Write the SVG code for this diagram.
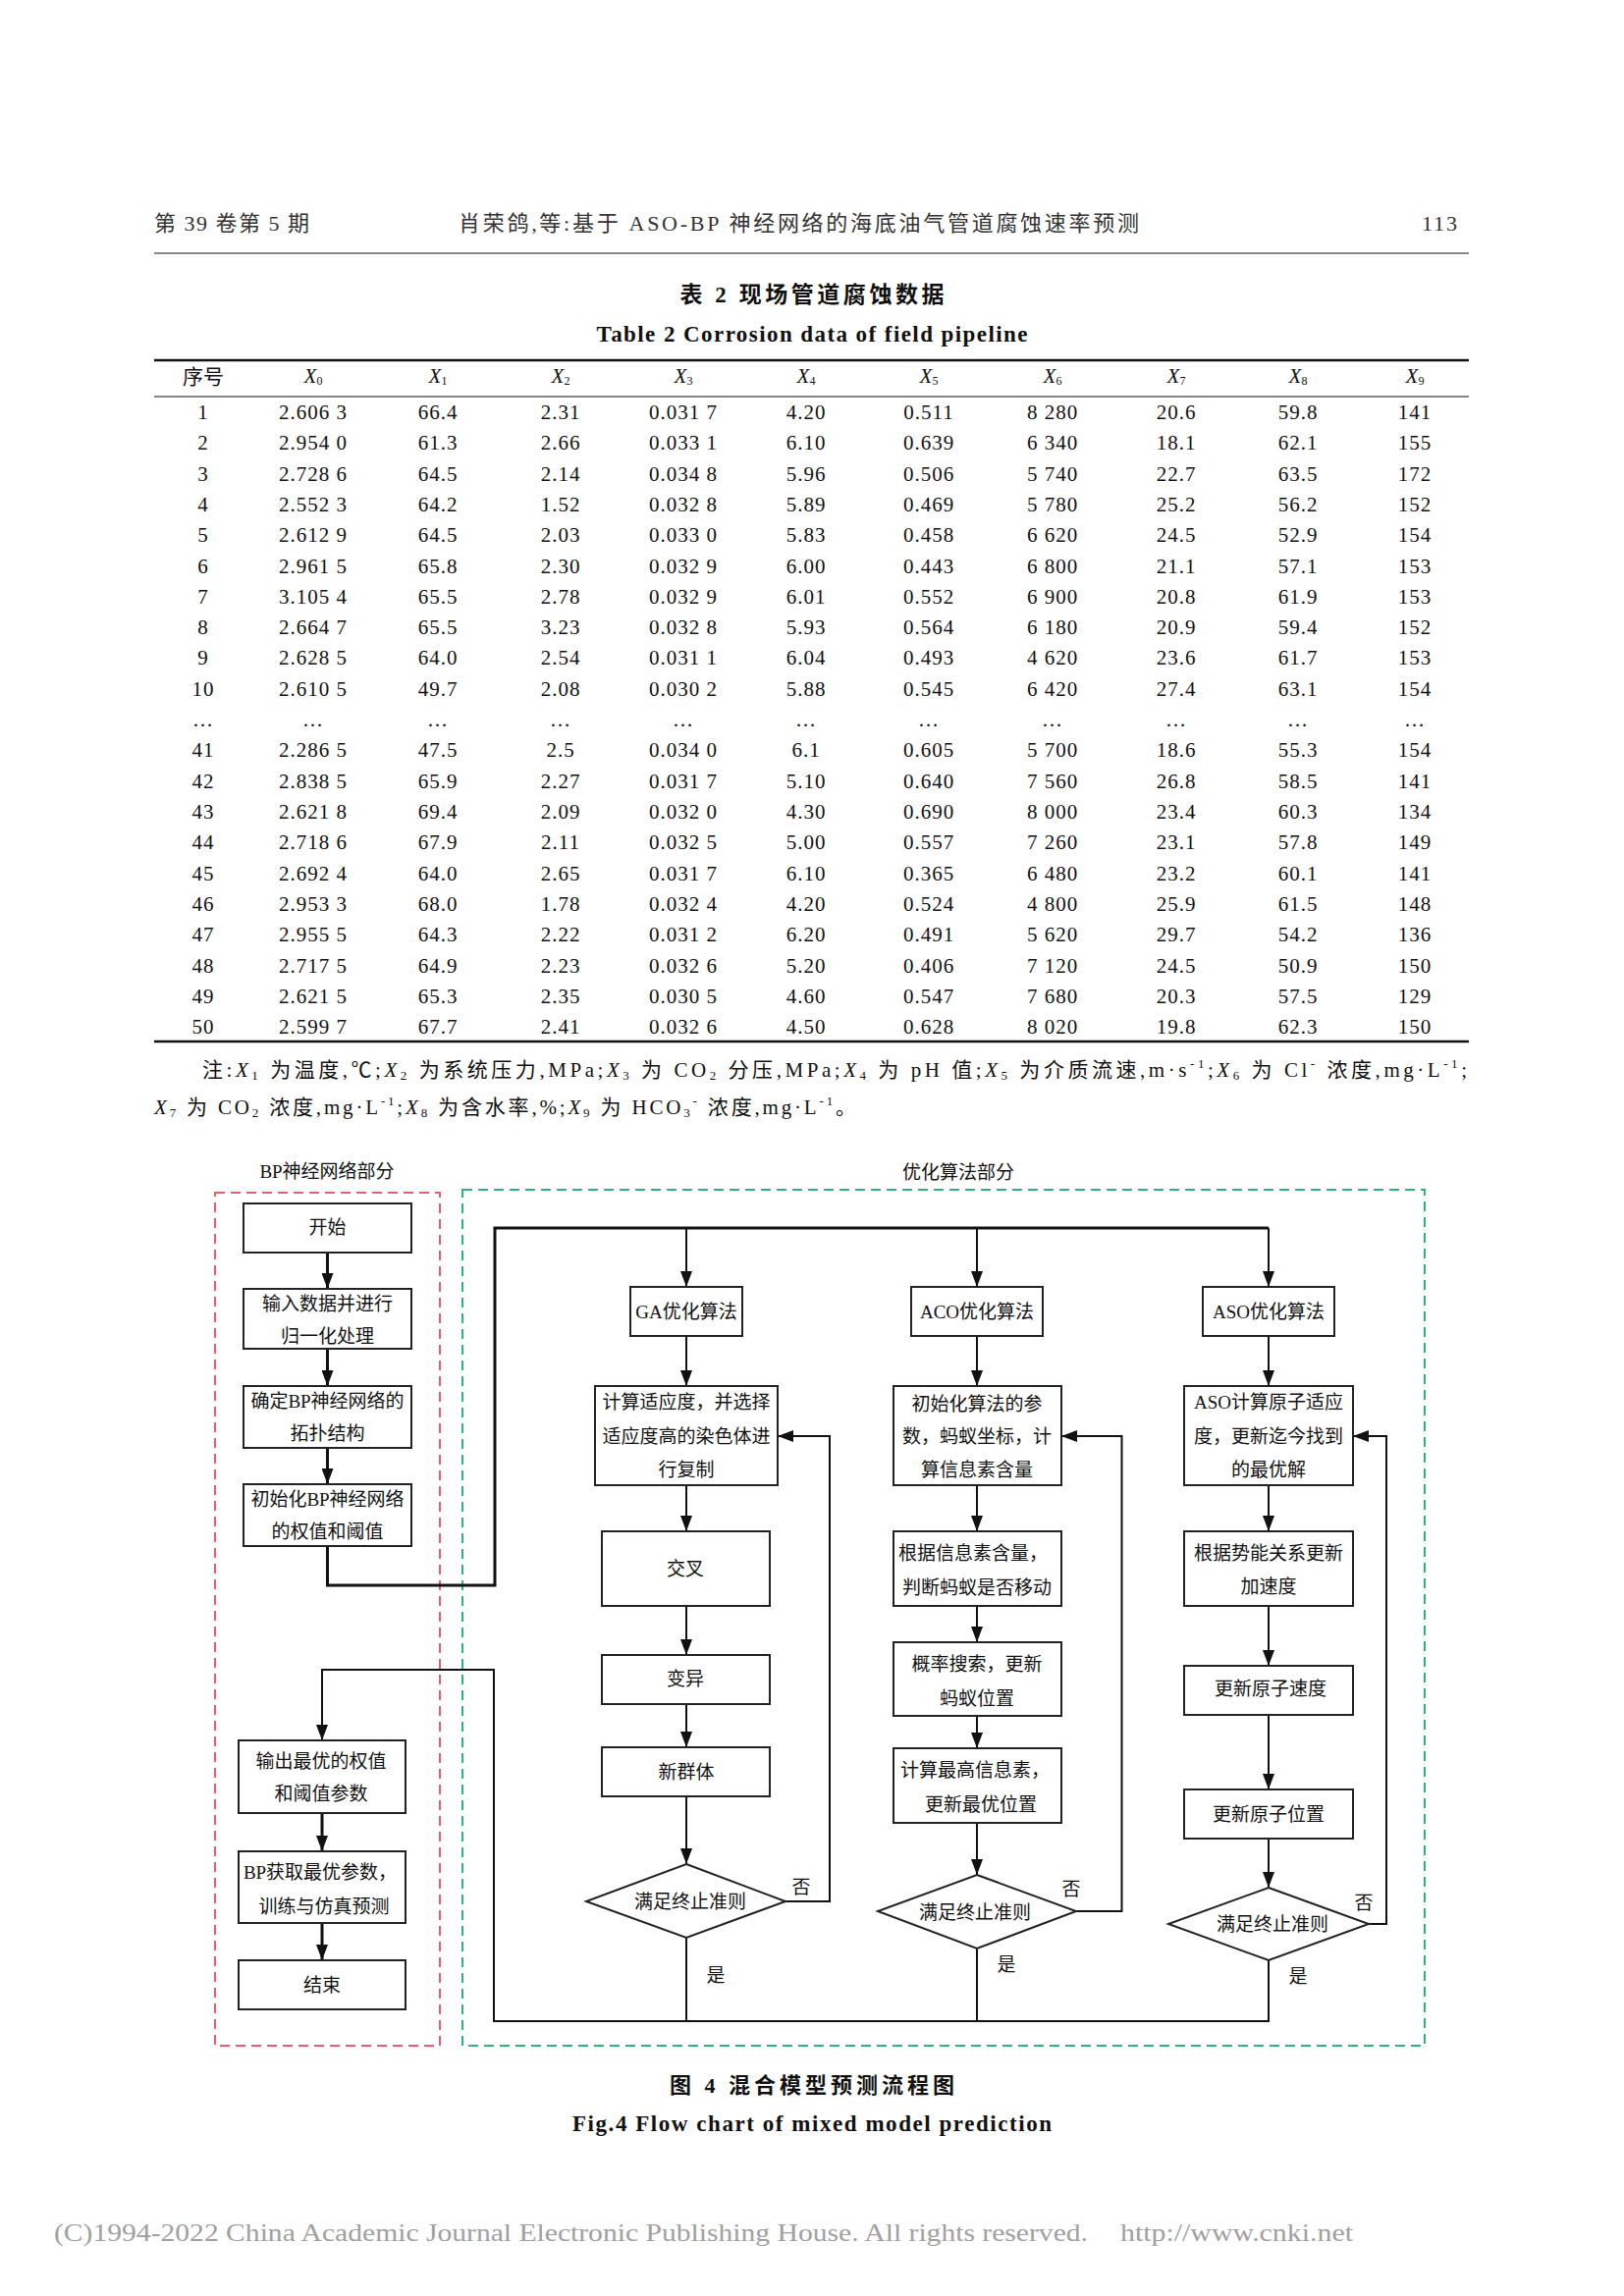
<svg xmlns="http://www.w3.org/2000/svg" width="1654" height="2339" viewBox="0 0 1654 2339">
<style>
text{font-family:"Liberation Serif","Noto Sans CJK SC",serif;fill:#111}
.hd{font-size:22px;fill:#333}
.td{font-size:21px;text-anchor:middle;dominant-baseline:central;letter-spacing:1px}
.th{font-size:21px;text-anchor:middle;dominant-baseline:central}
.nt{font-size:21px;dominant-baseline:central}
.cap{font-weight:bold;text-anchor:middle;dominant-baseline:central}
.fc{font-size:19px;text-anchor:middle;dominant-baseline:central}
.lbl{font-size:19px;text-anchor:middle;dominant-baseline:central}
.box{fill:#fff;stroke:#222;stroke-width:2}
.ln{fill:none;stroke:#111;stroke-width:2}
.thick{stroke-width:3}
.rule{stroke:#111}
</style>
<defs>
<marker id="ah" viewBox="0 0 16 12" refX="16" refY="6" markerWidth="16" markerHeight="12" orient="auto" markerUnits="userSpaceOnUse"><path d="M0,0 L16,6 L0,12 z" fill="#111"/></marker>
</defs>
<rect width="1654" height="2339" fill="#fff"/>

<!-- page header -->
<text class="hd" x="157" y="235" textLength="158" lengthAdjust="spacing">第 39 卷第 5 期</text>
<text class="hd" x="467" y="235" textLength="693" lengthAdjust="spacing">肖荣鸽,等:基于 ASO-BP 神经网络的海底油气管道腐蚀速率预测</text>
<text class="hd" x="1448" y="235" textLength="36" lengthAdjust="spacing">113</text>
<line class="rule" x1="157" y1="258" x2="1496" y2="258" stroke-width="1.2"/>

<!-- table caption -->
<text class="cap" x="827" y="300" font-size="23" textLength="269" lengthAdjust="spacing">表 2  现场管道腐蚀数据</text>
<text class="cap" x="827" y="340" font-size="23" textLength="439" lengthAdjust="spacing">Table 2  Corrosion data of field pipeline</text>

<!-- table -->
<g id="table">
<line class="rule" x1="157" y1="367" x2="1496" y2="367" stroke-width="2.5"/>
<line class="rule" x1="157" y1="404" x2="1496" y2="404" stroke-width="1"/>
<line class="rule" x1="157" y1="1061" x2="1496" y2="1061" stroke-width="2.5"/>
<text class="th" x="207" y="384">序号</text>
<text class="th" x="319" y="383"><tspan font-style="italic">X</tspan><tspan font-size="12" dy="5">0</tspan></text>
<text class="th" x="446" y="383"><tspan font-style="italic">X</tspan><tspan font-size="12" dy="5">1</tspan></text>
<text class="th" x="571" y="383"><tspan font-style="italic">X</tspan><tspan font-size="12" dy="5">2</tspan></text>
<text class="th" x="696" y="383"><tspan font-style="italic">X</tspan><tspan font-size="12" dy="5">3</tspan></text>
<text class="th" x="821" y="383"><tspan font-style="italic">X</tspan><tspan font-size="12" dy="5">4</tspan></text>
<text class="th" x="946" y="383"><tspan font-style="italic">X</tspan><tspan font-size="12" dy="5">5</tspan></text>
<text class="th" x="1072" y="383"><tspan font-style="italic">X</tspan><tspan font-size="12" dy="5">6</tspan></text>
<text class="th" x="1198" y="383"><tspan font-style="italic">X</tspan><tspan font-size="12" dy="5">7</tspan></text>
<text class="th" x="1322" y="383"><tspan font-style="italic">X</tspan><tspan font-size="12" dy="5">8</tspan></text>
<text class="th" x="1441" y="383"><tspan font-style="italic">X</tspan><tspan font-size="12" dy="5">9</tspan></text>

<text class="td" y="420"><tspan x="207">1</tspan><tspan x="319">2.606 3</tspan><tspan x="446">66.4</tspan><tspan x="571">2.31</tspan><tspan x="696">0.031 7</tspan><tspan x="821">4.20</tspan><tspan x="946">0.511</tspan><tspan x="1072">8 280</tspan><tspan x="1198">20.6</tspan><tspan x="1322">59.8</tspan><tspan x="1441">141</tspan></text>
<text class="td" y="451"><tspan x="207">2</tspan><tspan x="319">2.954 0</tspan><tspan x="446">61.3</tspan><tspan x="571">2.66</tspan><tspan x="696">0.033 1</tspan><tspan x="821">6.10</tspan><tspan x="946">0.639</tspan><tspan x="1072">6 340</tspan><tspan x="1198">18.1</tspan><tspan x="1322">62.1</tspan><tspan x="1441">155</tspan></text>
<text class="td" y="483"><tspan x="207">3</tspan><tspan x="319">2.728 6</tspan><tspan x="446">64.5</tspan><tspan x="571">2.14</tspan><tspan x="696">0.034 8</tspan><tspan x="821">5.96</tspan><tspan x="946">0.506</tspan><tspan x="1072">5 740</tspan><tspan x="1198">22.7</tspan><tspan x="1322">63.5</tspan><tspan x="1441">172</tspan></text>
<text class="td" y="514"><tspan x="207">4</tspan><tspan x="319">2.552 3</tspan><tspan x="446">64.2</tspan><tspan x="571">1.52</tspan><tspan x="696">0.032 8</tspan><tspan x="821">5.89</tspan><tspan x="946">0.469</tspan><tspan x="1072">5 780</tspan><tspan x="1198">25.2</tspan><tspan x="1322">56.2</tspan><tspan x="1441">152</tspan></text>
<text class="td" y="545"><tspan x="207">5</tspan><tspan x="319">2.612 9</tspan><tspan x="446">64.5</tspan><tspan x="571">2.03</tspan><tspan x="696">0.033 0</tspan><tspan x="821">5.83</tspan><tspan x="946">0.458</tspan><tspan x="1072">6 620</tspan><tspan x="1198">24.5</tspan><tspan x="1322">52.9</tspan><tspan x="1441">154</tspan></text>
<text class="td" y="577"><tspan x="207">6</tspan><tspan x="319">2.961 5</tspan><tspan x="446">65.8</tspan><tspan x="571">2.30</tspan><tspan x="696">0.032 9</tspan><tspan x="821">6.00</tspan><tspan x="946">0.443</tspan><tspan x="1072">6 800</tspan><tspan x="1198">21.1</tspan><tspan x="1322">57.1</tspan><tspan x="1441">153</tspan></text>
<text class="td" y="608"><tspan x="207">7</tspan><tspan x="319">3.105 4</tspan><tspan x="446">65.5</tspan><tspan x="571">2.78</tspan><tspan x="696">0.032 9</tspan><tspan x="821">6.01</tspan><tspan x="946">0.552</tspan><tspan x="1072">6 900</tspan><tspan x="1198">20.8</tspan><tspan x="1322">61.9</tspan><tspan x="1441">153</tspan></text>
<text class="td" y="639"><tspan x="207">8</tspan><tspan x="319">2.664 7</tspan><tspan x="446">65.5</tspan><tspan x="571">3.23</tspan><tspan x="696">0.032 8</tspan><tspan x="821">5.93</tspan><tspan x="946">0.564</tspan><tspan x="1072">6 180</tspan><tspan x="1198">20.9</tspan><tspan x="1322">59.4</tspan><tspan x="1441">152</tspan></text>
<text class="td" y="670"><tspan x="207">9</tspan><tspan x="319">2.628 5</tspan><tspan x="446">64.0</tspan><tspan x="571">2.54</tspan><tspan x="696">0.031 1</tspan><tspan x="821">6.04</tspan><tspan x="946">0.493</tspan><tspan x="1072">4 620</tspan><tspan x="1198">23.6</tspan><tspan x="1322">61.7</tspan><tspan x="1441">153</tspan></text>
<text class="td" y="702"><tspan x="207">10</tspan><tspan x="319">2.610 5</tspan><tspan x="446">49.7</tspan><tspan x="571">2.08</tspan><tspan x="696">0.030 2</tspan><tspan x="821">5.88</tspan><tspan x="946">0.545</tspan><tspan x="1072">6 420</tspan><tspan x="1198">27.4</tspan><tspan x="1322">63.1</tspan><tspan x="1441">154</tspan></text>
<text class="td" y="733"><tspan x="207">…</tspan><tspan x="319">…</tspan><tspan x="446">…</tspan><tspan x="571">…</tspan><tspan x="696">…</tspan><tspan x="821">…</tspan><tspan x="946">…</tspan><tspan x="1072">…</tspan><tspan x="1198">…</tspan><tspan x="1322">…</tspan><tspan x="1441">…</tspan></text>
<text class="td" y="764"><tspan x="207">41</tspan><tspan x="319">2.286 5</tspan><tspan x="446">47.5</tspan><tspan x="571">2.5</tspan><tspan x="696">0.034 0</tspan><tspan x="821">6.1</tspan><tspan x="946">0.605</tspan><tspan x="1072">5 700</tspan><tspan x="1198">18.6</tspan><tspan x="1322">55.3</tspan><tspan x="1441">154</tspan></text>
<text class="td" y="796"><tspan x="207">42</tspan><tspan x="319">2.838 5</tspan><tspan x="446">65.9</tspan><tspan x="571">2.27</tspan><tspan x="696">0.031 7</tspan><tspan x="821">5.10</tspan><tspan x="946">0.640</tspan><tspan x="1072">7 560</tspan><tspan x="1198">26.8</tspan><tspan x="1322">58.5</tspan><tspan x="1441">141</tspan></text>
<text class="td" y="827"><tspan x="207">43</tspan><tspan x="319">2.621 8</tspan><tspan x="446">69.4</tspan><tspan x="571">2.09</tspan><tspan x="696">0.032 0</tspan><tspan x="821">4.30</tspan><tspan x="946">0.690</tspan><tspan x="1072">8 000</tspan><tspan x="1198">23.4</tspan><tspan x="1322">60.3</tspan><tspan x="1441">134</tspan></text>
<text class="td" y="858"><tspan x="207">44</tspan><tspan x="319">2.718 6</tspan><tspan x="446">67.9</tspan><tspan x="571">2.11</tspan><tspan x="696">0.032 5</tspan><tspan x="821">5.00</tspan><tspan x="946">0.557</tspan><tspan x="1072">7 260</tspan><tspan x="1198">23.1</tspan><tspan x="1322">57.8</tspan><tspan x="1441">149</tspan></text>
<text class="td" y="890"><tspan x="207">45</tspan><tspan x="319">2.692 4</tspan><tspan x="446">64.0</tspan><tspan x="571">2.65</tspan><tspan x="696">0.031 7</tspan><tspan x="821">6.10</tspan><tspan x="946">0.365</tspan><tspan x="1072">6 480</tspan><tspan x="1198">23.2</tspan><tspan x="1322">60.1</tspan><tspan x="1441">141</tspan></text>
<text class="td" y="921"><tspan x="207">46</tspan><tspan x="319">2.953 3</tspan><tspan x="446">68.0</tspan><tspan x="571">1.78</tspan><tspan x="696">0.032 4</tspan><tspan x="821">4.20</tspan><tspan x="946">0.524</tspan><tspan x="1072">4 800</tspan><tspan x="1198">25.9</tspan><tspan x="1322">61.5</tspan><tspan x="1441">148</tspan></text>
<text class="td" y="952"><tspan x="207">47</tspan><tspan x="319">2.955 5</tspan><tspan x="446">64.3</tspan><tspan x="571">2.22</tspan><tspan x="696">0.031 2</tspan><tspan x="821">6.20</tspan><tspan x="946">0.491</tspan><tspan x="1072">5 620</tspan><tspan x="1198">29.7</tspan><tspan x="1322">54.2</tspan><tspan x="1441">136</tspan></text>
<text class="td" y="984"><tspan x="207">48</tspan><tspan x="319">2.717 5</tspan><tspan x="446">64.9</tspan><tspan x="571">2.23</tspan><tspan x="696">0.032 6</tspan><tspan x="821">5.20</tspan><tspan x="946">0.406</tspan><tspan x="1072">7 120</tspan><tspan x="1198">24.5</tspan><tspan x="1322">50.9</tspan><tspan x="1441">150</tspan></text>
<text class="td" y="1015"><tspan x="207">49</tspan><tspan x="319">2.621 5</tspan><tspan x="446">65.3</tspan><tspan x="571">2.35</tspan><tspan x="696">0.030 5</tspan><tspan x="821">4.60</tspan><tspan x="946">0.547</tspan><tspan x="1072">7 680</tspan><tspan x="1198">20.3</tspan><tspan x="1322">57.5</tspan><tspan x="1441">129</tspan></text>
<text class="td" y="1046"><tspan x="207">50</tspan><tspan x="319">2.599 7</tspan><tspan x="446">67.7</tspan><tspan x="571">2.41</tspan><tspan x="696">0.032 6</tspan><tspan x="821">4.50</tspan><tspan x="946">0.628</tspan><tspan x="1072">8 020</tspan><tspan x="1198">19.8</tspan><tspan x="1322">62.3</tspan><tspan x="1441">150</tspan></text>
</g>

<!-- table note -->
<text class="nt" x="206" y="1090" textLength="1288" lengthAdjust="spacing">注:<tspan font-style="italic">X</tspan><tspan font-size="13" dy="5">1</tspan><tspan dy="-5"> 为温度,℃;</tspan><tspan font-style="italic">X</tspan><tspan font-size="13" dy="5">2</tspan><tspan dy="-5"> 为系统压力,MPa;</tspan><tspan font-style="italic">X</tspan><tspan font-size="13" dy="5">3</tspan><tspan dy="-5"> 为 CO</tspan><tspan font-size="13" dy="5">2</tspan><tspan dy="-5"> 分压,MPa;</tspan><tspan font-style="italic">X</tspan><tspan font-size="13" dy="5">4</tspan><tspan dy="-5"> 为 pH 值;</tspan><tspan font-style="italic">X</tspan><tspan font-size="13" dy="5">5</tspan><tspan dy="-5"> 为介质流速,m·s</tspan><tspan font-size="13" dy="-7">-1</tspan><tspan dy="7">;</tspan><tspan font-style="italic">X</tspan><tspan font-size="13" dy="5">6</tspan><tspan dy="-5"> 为 Cl</tspan><tspan font-size="13" dy="-7">-</tspan><tspan dy="7"> 浓度,mg·L</tspan><tspan font-size="13" dy="-7">-1</tspan><tspan dy="7">;</tspan></text>
<text class="nt" x="157" y="1128" textLength="715" lengthAdjust="spacing"><tspan font-style="italic">X</tspan><tspan font-size="13" dy="5">7</tspan><tspan dy="-5"> 为 CO</tspan><tspan font-size="13" dy="5">2</tspan><tspan dy="-5"> 浓度,mg·L</tspan><tspan font-size="13" dy="-7">-1</tspan><tspan dy="7">;</tspan><tspan font-style="italic">X</tspan><tspan font-size="13" dy="5">8</tspan><tspan dy="-5"> 为含水率,%;</tspan><tspan font-style="italic">X</tspan><tspan font-size="13" dy="5">9</tspan><tspan dy="-5"> 为 HCO</tspan><tspan font-size="13" dy="5">3</tspan><tspan font-size="13" dy="-12">-</tspan><tspan dy="7"> 浓度,mg·L</tspan><tspan font-size="13" dy="-7">-1</tspan><tspan dy="7">。</tspan></text>

<!-- flowchart region boxes -->
<g id="region-bp">
<rect x="219" y="1215" width="229" height="869" fill="none" stroke="#ec5b6b" stroke-width="2" stroke-dasharray="10 6"/>
<text class="lbl" x="333" y="1193" font-size="20">BP神经网络部分</text>
</g>
<g id="region-opt">
<rect x="471" y="1212" width="980" height="872" fill="none" stroke="#36b07a" stroke-width="2" stroke-dasharray="10 6"/>
<text class="lbl" x="976" y="1194" font-size="20">优化算法部分</text>
</g>

<!-- connectors -->
<g id="connectors">
<path class="ln thick" d="M333.5,1276 V1313" marker-end="url(#ah)"/>
<path class="ln thick" d="M333.5,1374 V1412" marker-end="url(#ah)"/>
<path class="ln thick" d="M333.5,1475 V1512" marker-end="url(#ah)"/>
<path class="ln thick" d="M333.5,1575 V1615 H504 V1251 H1292"/>
<path class="ln" d="M699,1251 V1311" marker-end="url(#ah)"/>
<path class="ln" d="M995,1251 V1311" marker-end="url(#ah)"/>
<path class="ln" d="M1292,1251 V1311" marker-end="url(#ah)"/>
<!-- GA -->
<path class="ln" d="M699,1361 V1412" marker-end="url(#ah)"/>
<path class="ln" d="M699,1513 V1560" marker-end="url(#ah)"/>
<path class="ln" d="M699,1636 V1686" marker-end="url(#ah)"/>
<path class="ln" d="M699,1736 V1780" marker-end="url(#ah)"/>
<path class="ln" d="M699,1830 V1899" marker-end="url(#ah)"/>
<path class="ln" d="M800,1937 H845 V1463 H792" marker-end="url(#ah)"/>
<!-- ACO -->
<path class="ln" d="M995,1361 V1412" marker-end="url(#ah)"/>
<path class="ln" d="M995,1513 V1560" marker-end="url(#ah)"/>
<path class="ln" d="M995,1636 V1673" marker-end="url(#ah)"/>
<path class="ln" d="M995,1748 V1781" marker-end="url(#ah)"/>
<path class="ln" d="M995,1857 V1910" marker-end="url(#ah)"/>
<path class="ln" d="M1096,1947 H1142.5 V1463 H1081" marker-end="url(#ah)"/>
<!-- ASO -->
<path class="ln" d="M1292,1361 V1412" marker-end="url(#ah)"/>
<path class="ln" d="M1292,1513 V1560" marker-end="url(#ah)"/>
<path class="ln" d="M1292,1636 V1697" marker-end="url(#ah)"/>
<path class="ln" d="M1292,1747 V1823" marker-end="url(#ah)"/>
<path class="ln" d="M1292,1873 V1923" marker-end="url(#ah)"/>
<path class="ln" d="M1394,1960 H1412 V1463 H1378" marker-end="url(#ah)"/>
<!-- yes branches to output -->
<path class="ln" d="M699,1974 V2059"/>
<path class="ln" d="M995,1985 V2059"/>
<path class="ln" d="M1292,1997 V2059 H503 V1701 H328 V1773" marker-end="url(#ah)"/>
<!-- left column lower -->
<path class="ln thick" d="M328,1847 V1886" marker-end="url(#ah)"/>
<path class="ln thick" d="M328,1959 V1997" marker-end="url(#ah)"/>
<text class="lbl" x="816" y="1922">否</text>
<text class="lbl" x="729" y="2012">是</text>
<text class="lbl" x="1091" y="1924">否</text>
<text class="lbl" x="1025" y="2001">是</text>
<text class="lbl" x="1389" y="1938">否</text>
<text class="lbl" x="1322" y="2013">是</text>
</g>

<!-- BP nodes -->
<g id="n-start"><rect class="box" x="248" y="1226" width="171" height="50"/><text class="fc" x="333.5" y="1250">开始</text></g>
<g id="n-input"><rect class="box" x="248" y="1313" width="171" height="61"/><text class="fc" x="333.5" y="1328">输入数据并进行</text><text class="fc" x="333.5" y="1361">归一化处理</text></g>
<g id="n-topo"><rect class="box" x="248" y="1412" width="171" height="63"/><text class="fc" x="333.5" y="1427">确定BP神经网络的</text><text class="fc" x="333.5" y="1460">拓扑结构</text></g>
<g id="n-init"><rect class="box" x="248" y="1512" width="171" height="63"/><text class="fc" x="333.5" y="1527">初始化BP神经网络</text><text class="fc" x="333.5" y="1560">的权值和阈值</text></g>
<g id="n-output"><rect class="box" x="243" y="1773" width="170" height="74"/><text class="fc" x="327" y="1794">输出最优的权值</text><text class="fc" x="327" y="1827">和阈值参数</text></g>
<g id="n-bptrain"><rect class="box" x="243" y="1886" width="170" height="73"/><text class="fc" x="326" y="1907">BP获取最优参数，</text><text class="fc" x="330" y="1942">训练与仿真预测</text></g>
<g id="n-end"><rect class="box" x="243" y="1997" width="170" height="50"/><text class="fc" x="328" y="2022">结束</text></g>

<!-- GA nodes -->
<g id="n-ga"><rect class="box" x="642" y="1311" width="114" height="50"/><text class="fc" x="699" y="1336">GA优化算法</text></g>
<g id="n-ga-fit"><rect class="box" x="606" y="1412" width="186" height="101"/><text class="fc" x="699" y="1428">计算适应度，并选择</text><text class="fc" x="699" y="1463">适应度高的染色体进</text><text class="fc" x="699" y="1497">行复制</text></g>
<g id="n-ga-cross"><rect class="box" x="613" y="1560" width="171" height="76"/><text class="fc" x="698" y="1598">交叉</text></g>
<g id="n-ga-mut"><rect class="box" x="613" y="1686" width="171" height="50"/><text class="fc" x="698" y="1710">变异</text></g>
<g id="n-ga-new"><rect class="box" x="613" y="1780" width="171" height="50"/><text class="fc" x="699" y="1805">新群体</text></g>
<g id="n-ga-dec"><polygon class="box" points="699,1899 800,1937 699,1974 597,1937"/><text class="fc" x="703" y="1937">满足终止准则</text></g>

<!-- ACO nodes -->
<g id="n-aco"><rect class="box" x="928" y="1311" width="134" height="50"/><text class="fc" x="995" y="1336">ACO优化算法</text></g>
<g id="n-aco-init"><rect class="box" x="910" y="1412" width="171" height="101"/><text class="fc" x="995" y="1430">初始化算法的参</text><text class="fc" x="995" y="1463">数，蚂蚁坐标，计</text><text class="fc" x="995" y="1497">算信息素含量</text></g>
<g id="n-aco-judge"><rect class="box" x="910" y="1560" width="171" height="76"/><text class="fc" x="991" y="1582">根据信息素含量，</text><text class="fc" x="995" y="1617">判断蚂蚁是否移动</text></g>
<g id="n-aco-prob"><rect class="box" x="910" y="1673" width="171" height="75"/><text class="fc" x="995" y="1695">概率搜索，更新</text><text class="fc" x="995" y="1730">蚂蚁位置</text></g>
<g id="n-aco-best"><rect class="box" x="910" y="1781" width="171" height="76"/><text class="fc" x="993" y="1803">计算最高信息素，</text><text class="fc" x="999" y="1838">更新最优位置</text></g>
<g id="n-aco-dec"><polygon class="box" points="995,1910 1096,1947 995,1985 894,1947"/><text class="fc" x="993" y="1948">满足终止准则</text></g>

<!-- ASO nodes -->
<g id="n-aso"><rect class="box" x="1225" y="1311" width="134" height="50"/><text class="fc" x="1292" y="1336">ASO优化算法</text></g>
<g id="n-aso-fit"><rect class="box" x="1206" y="1412" width="172" height="101"/><text class="fc" x="1292" y="1428">ASO计算原子适应</text><text class="fc" x="1292" y="1463">度，更新迄今找到</text><text class="fc" x="1292" y="1497">的最优解</text></g>
<g id="n-aso-acc"><rect class="box" x="1206" y="1560" width="172" height="76"/><text class="fc" x="1292" y="1582">根据势能关系更新</text><text class="fc" x="1292" y="1616">加速度</text></g>
<g id="n-aso-vel"><rect class="box" x="1206" y="1697" width="172" height="50"/><text class="fc" x="1294" y="1720">更新原子速度</text></g>
<g id="n-aso-pos"><rect class="box" x="1206" y="1823" width="172" height="50"/><text class="fc" x="1292" y="1848">更新原子位置</text></g>
<g id="n-aso-dec"><polygon class="box" points="1292,1923 1394,1960 1292,1997 1190,1960"/><text class="fc" x="1296" y="1960">满足终止准则</text></g>

<!-- figure caption -->
<text class="cap" x="827" y="2124" font-size="22" textLength="290" lengthAdjust="spacing">图 4  混合模型预测流程图</text>
<text class="cap" x="827" y="2163" font-size="23" textLength="488" lengthAdjust="spacing">Fig.4  Flow chart of mixed model prediction</text>

<!-- footer -->
<text x="55" y="2274" font-size="26" style="fill:#a0a0a0;dominant-baseline:central" textLength="1053" lengthAdjust="spacingAndGlyphs">(C)1994-2022 China Academic Journal Electronic Publishing House. All rights reserved.</text>
<text x="1141" y="2274" font-size="26" style="fill:#a0a0a0;dominant-baseline:central" textLength="237" lengthAdjust="spacingAndGlyphs">http://www.cnki.net</text>
</svg>
